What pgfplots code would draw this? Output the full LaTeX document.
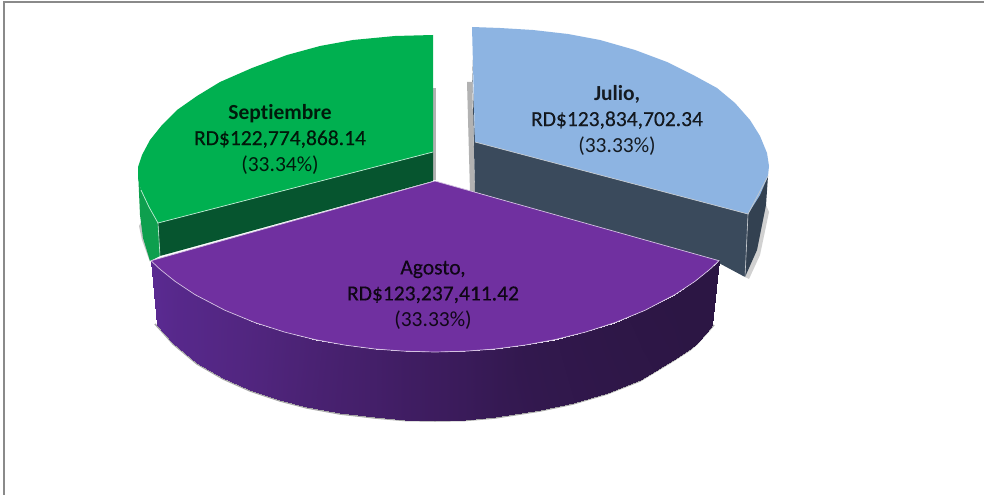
\documentclass[border=0pt]{standalone}
\usepackage{fontspec}
\setmainfont{Carlito}[Ligatures=NoCommon]
\usepackage{pgfplots}
\pgfplotsset{compat=1.18}
\definecolor{gTop}{HTML}{00B050}
\definecolor{gIn}{HTML}{06552F}
\definecolor{gOut}{HTML}{0E9F4E}
\definecolor{bTop}{HTML}{8DB4E2}
\definecolor{bIn}{HTML}{3A4A5C}
\definecolor{pTop}{HTML}{7030A0}
\definecolor{frameC}{HTML}{8A8A8A}
\newfontfamily\semib{Carlito}[Ligatures=NoCommon,FakeBold=0.35]
\begin{document}
\begin{tikzpicture}
\begin{axis}[
  scale only axis, width=984bp, height=495bp,
  xmin=0, xmax=984, ymin=0, ymax=495, y dir=reverse,
  hide axis, clip=true,
  colormap={pside}{rgb255(0)=(90,42,145) rgb255(1)=(80,37,125) rgb255(2)=(66,30,102) rgb255(3)=(50,24,78) rgb255(4)=(44,22,68)},
  point meta min=0, point meta max=1,
  every axis plot/.append style={forget plot}
]
% page
\addplot[fill=white, draw=none] coordinates {(0,0)(984,0)(984,495)(0,495)} --cycle;
\addplot[frameC, line width=2.2bp] coordinates {(4,495)(4,2)(984,2)};
% soft shadows
\addplot[fill=black!30, draw=none] coordinates {(433,88)(436,88)(436,180)(433,180)} --cycle;
\addplot[fill=black!30, draw=none] coordinates {(467,82)(472,82)(475,192)(470,192)} --cycle;
\addplot[fill=black!22, draw=none] coordinates {(141,222)(139,226)(142,240)(150,262)(152,257)} --cycle;
\addplot[fill=black!18, draw=none] coordinates {(745,277)(749,279)(760,255)(769,212)(766,205)} --cycle;
\addplot[black!35, line width=1.5bp] coordinates {(155,324)(165,335)(173,344)(197,364)(223,379)(250,391)(280,401)(307,408)(340,414)(375,418)(405,420.5)(435,421)(465,420.5)(495,418)(540,411)(573,404)(607,394)(640,381)(673,361)(690,350)(697,344)(706,334)(714,325)};
% green slice
\addplot[fill=gOut, draw=none] coordinates {(138,170)(141,190)(149,207)(158,223)(160,256)(150,261)(143,238)(140,215)} --cycle;
\addplot[fill=gIn, draw=none] coordinates {(158,223)(433,152)(433,181)(160,256)} --cycle;
\addplot[fill=gTop, draw=none] coordinates {(433,35)(395,36)(353,40)(320,46)(287,55)(252,68)(220,82)(197,96)(177,110)(162,125)(150,140)(142,155)(138,167)(138,178)(141,190)(149,207)(158,223)(433,152)} --cycle;
\addplot[white!75!gTop, line width=0.7bp] coordinates {(141,190)(149,207)(158,223)(433,152)};
\addplot[white!75!gTop, line width=0.6bp] coordinates {(158,223)(160,256)};
% blue slice
\addplot[fill=bIn, draw=none] coordinates {(472,60)(475,142)(748,214)(745,277)(717,262)(475,192)} --cycle;
\addplot[fill=bIn!88!black, draw=none] coordinates {(748,214)(768,176)(766,205)(757,250)(745,277)} --cycle;
\addplot[fill=bTop, draw=none] coordinates {(472,27)(500,28)(533,30)(568,34)(600,40)(635,50)(667,62)(695,76)(717,88)(735,103)(750,120)(760,136)(767,153)(769,166)(768,176)(760,195)(748,214)(475,142)} --cycle;
\addplot[white!70!bIn, line width=0.7bp] coordinates {(475,142)(748,214)(768,176)};
\addplot[white!70!bIn, line width=0.6bp] coordinates {(748,214)(745,277)};
% purple slice: side with a gradient, from the rim to the base
\addplot[surf, shader=interp, mesh/rows=2, mesh/check=false, point meta=explicit] table[meta=c] {
x y c
151 260.7 0.00
160 269.2 0.03
175 281.3 0.07
195 294.6 0.11
225 310.3 0.17
255 322.6 0.23
285 332.2 0.30
315 339.6 0.36
345 345.1 0.42
375 349.0 0.47
405 351.2 0.53
435 352.0 0.58
465 351.2 0.63
495 349.0 0.69
525 345.1 0.75
555 339.6 0.81
585 332.2 0.87
615 322.6 0.92
645 310.3 0.96
675 294.6 1.00
695 281.3 1.00
710 269.2 1.00
719 260.7 1.00
157 325 0.00
165 334 0.03
173 343 0.07
197 363 0.11
223 378 0.17
250 390 0.23
280 400 0.30
307 407 0.36
340 413 0.42
375 417 0.47
405 419.5 0.53
435 420 0.58
465 419.5 0.63
495 417 0.69
540 410 0.75
573 403 0.81
607 393 0.87
640 380 0.92
673 360 0.96
690 349 1.00
697 343 1.00
706 333 1.00
712 325 1.00
};
\addplot[fill=pTop, draw=none] coordinates {(435,181)(151,260.7)(160,269.2)(175,281.3)(195,294.6)(225,310.3)(255,322.6)(285,332.2)(315,339.6)(345,345.1)(375,349.0)(405,351.2)(435,352.0)(465,351.2)(495,349.0)(525,345.1)(555,339.6)(585,332.2)(615,322.6)(645,310.3)(675,294.6)(695,281.3)(710,269.2)(719,260.7)} --cycle;
\addplot[white!70!pTop, line width=0.7bp] coordinates {(435,181)(151,260.7)(160,269.2)(175,281.3)(195,294.6)(225,310.3)(255,322.6)(285,332.2)(315,339.6)(345,345.1)(375,349.0)(405,351.2)(435,352.0)(465,351.2)(495,349.0)(525,345.1)(555,339.6)(585,332.2)(615,322.6)(645,310.3)(675,294.6)(695,281.3)(710,269.2)(719,260.7)(435,181)};
% labels
\node[align=center, text=black, text opacity=0.85, font=\fontsize{21.5bp}{26bp}\selectfont] at (axis cs:280,139) {\textbf{Septiembre}\\{\semib RD\$122,774,868.14}\\(33.34\%)};
\node[align=center, text=black, text opacity=0.85, font=\fontsize{21.5bp}{26bp}\selectfont] at (axis cs:617,120) {\textbf{Julio,}\\{\semib RD\$123,834,702.34}\\(33.33\%)};
\node[align=center, text=black, text opacity=0.85, font=\fontsize{21.5bp}{26bp}\selectfont] at (axis cs:433,295) {{\semib Agosto,}\\{\semib RD\$123,237,411.42}\\(33.33\%)};
\end{axis}
\end{tikzpicture}
\end{document}
